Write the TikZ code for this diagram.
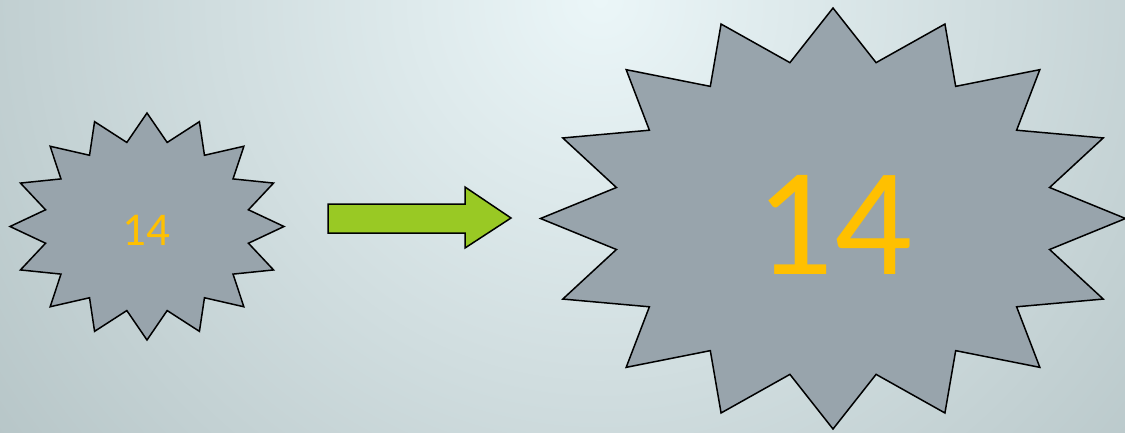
\documentclass[tikz,border=0pt]{standalone}
\usepackage{fontspec}
\setmainfont{Carlito}
\definecolor{bgin}{HTML}{EBF6F8}
\definecolor{bgout}{HTML}{B6C5C7}
\definecolor{starfill}{HTML}{98A4AC}
\definecolor{numcol}{HTML}{FFC000}
\definecolor{arrowfill}{HTML}{99C924}
\tikzset{
  starshape/.style={fill=starfill, draw=black, line width=1.5pt, line join=miter},
  numtext/.style={text=numcol, inner sep=0pt, anchor=center},
  arrowshape/.style={fill=arrowfill, draw=black, line width=1.5pt, line join=miter}
}
\newcommand{\burst}[4]{% cx, cy, rx, ry
  \draw[starshape] plot[samples at={0,...,31}, variable=\k]
    ({#1+(mod(\k,2)==0 ? 1 : 0.755)*#3*cos(90+11.25*\k)},
     {#2-(mod(\k,2)==0 ? 1 : 0.755)*#4*sin(90+11.25*\k)}) -- cycle;
}
\begin{document}
\begin{tikzpicture}[x=1pt,y=-1pt]
\useasboundingbox (0,0) rectangle (1125,432);
\begin{scope}
  \clip (0,0) rectangle (1125,432);
  \fill[bgout] (0,0) rectangle (1125,432);
  \shade[inner color=bgin, outer color=bgout] (600,0) circle (760);
\end{scope}
% small burst
\burst{147}{226.5}{137}{113.5}
\node[numtext, font=\fontsize{47}{47}\selectfont] (small) at (146,230) {14};
% arrow
\draw[arrowshape] (328,204) coordinate (atail) -- (465,204) -- (465,187) -- (511,218) coordinate (ahead) -- (465,248) -- (465,233) -- (328,233) -- cycle;
% large burst
\burst{833}{218.5}{292.5}{210.5}
\node[numtext, font=\fontsize{154}{154}\selectfont] (large) at (834,225) {14};
\end{tikzpicture}
\end{document}
